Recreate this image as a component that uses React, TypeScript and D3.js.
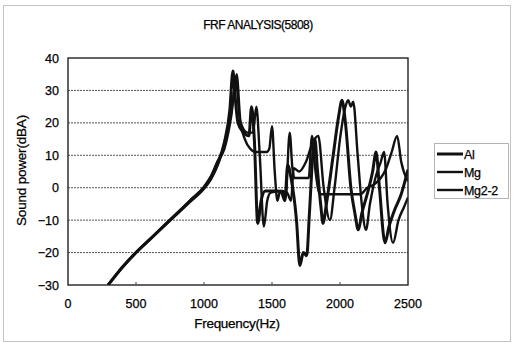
import React, { useEffect, useRef } from 'react';
import * as d3 from 'd3';

// frequency (Hz) / sound power (dBA)
const lowFreq = [295, 400, 500, 600, 700, 800, 900, 1000, 1050, 1100];
const lowAl = [-30, -24.5, -20, -16, -12, -8, -4, 0, 3, 7.5];
const lowMg = [-30, -24.6, -20.1, -16.1, -12.1, -8.2, -4.3, -0.3, 2.5, 6.8];
const lowMg22 = [-30, -24.4, -19.9, -15.9, -11.9, -7.9, -3.8, 0.3, 3.5, 8.2];

const alFreq = [1150, 1190, 1213, 1225, 1250, 1290, 1330, 1350, 1370, 1395, 1420, 1450, 1500, 1540, 1570, 1595, 1615, 1640, 1680, 1705, 1730, 1755, 1775, 1800, 1815, 1835, 1860, 1875, 1900, 1950, 1990, 2015, 2040, 2080, 2110, 2135, 2160, 2200, 2240, 2265, 2290, 2331, 2360, 2400, 2450, 2500];
const alVals = [14, 24, 36, 30, 20, 17, 16, 25, 15, -11, -4, -1, -1, -1, -1.5, -4, 7, 3, -10, -24, -20, -21, -8, 10, 15, 5, -6, -11, -5, 10, 22, 27, 20, 0, -8, -13, -8, -2, 5, 11, 0, -17, -12, -7, -2, 5.6];

const mgFreq = [1150, 1200, 1222, 1240, 1270, 1320, 1360, 1385, 1410, 1440, 1465, 1490, 1560, 1610, 1640, 1660, 1700, 1750, 1800, 1840, 1880, 1926, 1960, 2000, 2040, 2060, 2080, 2097, 2130, 2160, 2191, 2220, 2260, 2300, 2324, 2350, 2390, 2430, 2470, 2500];
const mgVals = [13, 23, 30, 35, 20, 17, 17, 25, 10, -12, -4, -1.5, -1, -1.5, -4, 6, 5, 8, 14, 16, 0, -10, 0, 15, 25, 27, 25, 26.5, 10, -5, -13, -5, 3, 8, 11, -5, -17, -10, -6, -3];

const mg22Freq = [1150, 1200, 1235, 1260, 1300, 1340, 1380, 1460, 1480, 1500, 1520, 1540, 1560, 1580, 1600, 1630, 1650, 1665, 1770, 1794, 1820, 1853, 2150, 2200, 2250, 2300, 2340, 2380, 2420, 2450, 2500];
const mg22Vals = [12, 22, 33, 22, 15, 12, 11, 11, 12, 19, 5, -4, -1, -1, -3, 17, 6, 3, 3, 16, 5, -2, -2, 0, 1, 3, 6, 11, 16, 8, 2];

const seriesNames = ['Al', 'Mg', 'Mg2-2'];
const seriesWidths = [3, 2.4, 2.4];
const yTicks = [40, 30, 20, 10, 0, -10, -20, -30];
const xTicks = [0, 500, 1000, 1500, 2000, 2500];

const toPoints = (f: number[], v: number[]) => f.map((x, i) => ({ x, y: v[i] }));

export default function App() {
  const svgRef = useRef<SVGSVGElement>(null);

  useEffect(() => {
    if (!svgRef.current) return;
    const width = 513;
    const height = 343;
    const margin = { top: 58, right: 105, bottom: 58, left: 68 };
    const w = width - margin.left - margin.right;
    const h = height - margin.top - margin.bottom;

    const svg = d3.select(svgRef.current);
    svg.selectAll('*').remove();
    svg.attr('width', width).attr('height', height).style('font-family', '"Liberation Sans", Arial, sans-serif');

    svg.append('rect').attr('width', width).attr('height', height).attr('fill', '#fff');
    svg.append('rect')
      .attr('x', 3.5).attr('y', 5.5).attr('width', 507).attr('height', 336)
      .attr('fill', 'none').attr('stroke', '#888').attr('stroke-dasharray', '1,1');

    const txt = (sel: d3.Selection<SVGTextElement, any, any, any>) =>
      sel.attr('fill', '#000').attr('stroke', '#000').attr('stroke-width', 0.25);

    svg.append('text')
      .attr('x', 258).attr('y', 29)
      .attr('text-anchor', 'middle')
      .attr('font-size', 12)
      .attr('letter-spacing', -0.5)
      .call(txt)
      .text('FRF ANALYSIS(5808)');

    const g = svg.append('g').attr('transform', `translate(${margin.left},${margin.top})`);
    const x = d3.scaleLinear().domain([0, 2500]).range([0, w]);
    const y = d3.scaleLinear().domain([-30, 40]).range([h, 0]);

    // grid
    g.selectAll('.grid')
      .data(yTicks.filter((t) => t > -30 && t < 40))
      .enter()
      .append('line')
      .attr('x1', 0).attr('x2', w)
      .attr('y1', (d) => y(d)).attr('y2', (d) => y(d))
      .attr('stroke', '#555').attr('stroke-width', 1).attr('stroke-dasharray', '2,1');

    const defs = svg.append('defs');
    defs.append('clipPath').attr('id', 'plotclip').append('rect').attr('width', w).attr('height', h);

    const series = [
      toPoints(lowFreq, lowAl).concat(toPoints(alFreq, alVals)),
      toPoints(lowFreq, lowMg).concat(toPoints(mgFreq, mgVals)),
      toPoints(lowFreq, lowMg22).concat(toPoints(mg22Freq, mg22Vals)),
    ];

    const line = d3.line<{ x: number; y: number }>()
      .x((d) => x(d.x))
      .y((d) => y(d.y))
      .curve(d3.curveMonotoneX);

    const lines = g.append('g').attr('clip-path', 'url(#plotclip)');
    series.forEach((s, i) => {
      lines.append('path')
        .datum(s)
        .attr('d', line)
        .attr('fill', 'none')
        .attr('stroke', '#111')
        .attr('stroke-width', seriesWidths[i])
        .attr('stroke-linejoin', 'round');
    });

    // plot frame
    g.append('rect').attr('width', w).attr('height', h).attr('fill', 'none').attr('stroke', '#222').attr('stroke-width', 1.4);

    // inward x ticks
    g.selectAll('.xtick')
      .data(xTicks.slice(1, -1))
      .enter()
      .append('line')
      .attr('x1', (d) => x(d)).attr('x2', (d) => x(d))
      .attr('y1', h).attr('y2', h - 3)
      .attr('stroke', '#444');

    g.selectAll('.ylab')
      .data(yTicks)
      .enter()
      .append('text')
      .attr('x', -9)
      .attr('y', (d) => y(d) + 4.5)
      .attr('text-anchor', 'end')
      .attr('font-size', 12.5)
      .call(txt)
      .text((d) => (d < 0 ? `\u2212${-d}` : `${d}`));

    g.selectAll('.xlab')
      .data(xTicks)
      .enter()
      .append('text')
      .attr('x', (d) => x(d))
      .attr('y', h + 23)
      .attr('text-anchor', 'middle')
      .attr('font-size', 12.5)
      .call(txt)
      .text((d) => `${d}`);

    g.append('text')
      .attr('x', w / 2 - 1)
      .attr('y', h + 43)
      .attr('text-anchor', 'middle')
      .attr('font-size', 13.5)
      .attr('letter-spacing', -0.3)
      .call(txt)
      .text('Frequency(Hz)');

    g.append('text')
      .attr('x', -h / 2 + 1)
      .attr('y', -42)
      .attr('transform', 'rotate(-90)')
      .attr('text-anchor', 'middle')
      .attr('font-size', 13.5)
      .attr('letter-spacing', -0.2)
      .call(txt)
      .text('Sound power(dBA)');

    // legend
    const lg = svg.append('g').attr('transform', 'translate(434,143)');
    lg.append('rect').attr('x', 0.5).attr('y', 0.5).attr('width', 74).attr('height', 55)
      .attr('fill', '#fff').attr('stroke', '#666').attr('stroke-dasharray', '1,1');
    seriesNames.forEach((name, i) => {
      const ly = 11 + i * 18;
      lg.append('line').attr('x1', 3).attr('x2', 29).attr('y1', ly).attr('y2', ly)
        .attr('stroke', '#111').attr('stroke-width', seriesWidths[i]);
      lg.append('text').attr('x', 30).attr('y', ly + 4.5)
        .attr('font-size', 12.5).attr('letter-spacing', -0.3)
        .call(txt).text(name);
    });
  }, []);

  return <svg ref={svgRef} style={{ position: 'absolute', left: 0, top: 0 }} />;
}
